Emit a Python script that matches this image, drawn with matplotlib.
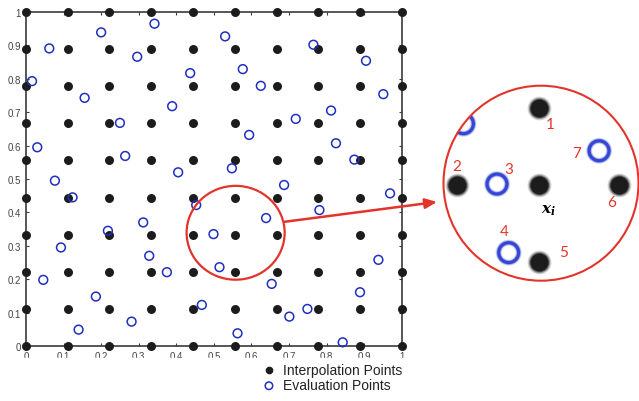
import matplotlib
matplotlib.use('Agg')
import matplotlib.pyplot as plt
import numpy as np
from matplotlib.patches import Circle, Ellipse, Rectangle, ConnectionPatch

plt.rcParams['font.family'] = ['Liberation Sans', 'DejaVu Sans']
plt.rcParams['mathtext.fontset'] = 'custom'
plt.rcParams['mathtext.it'] = 'DejaVu Serif:italic:bold'
plt.rcParams['mathtext.rm'] = 'DejaVu Serif:bold'

# interpolation nodes: full 10 x 10 lattice
node_vals = [0, 0.111, 0.222, 0.333, 0.444, 0.556, 0.667, 0.778, 0.889, 1]
interp_x, interp_y = np.meshgrid(node_vals, node_vals)
interp_x = interp_x.ravel()
interp_y = interp_y.ravel()

# scattered evaluation points
eval_x = [0.200, 0.062, 0.342, 0.296, 0.016, 0.437, 0.156, 0.389, 0.250, 0.030,
          0.264, 0.405, 0.077, 0.530, 0.765, 0.905, 0.577, 0.625, 0.951, 0.812,
          0.718, 0.594, 0.825, 0.874, 0.548, 0.124, 0.453, 0.312, 0.218, 0.093,
          0.328, 0.375, 0.046, 0.186, 0.468, 0.281, 0.140, 0.687, 0.969, 0.781,
          0.639, 0.499, 0.938, 0.515, 0.654, 0.889, 0.749, 0.701, 0.563, 0.843]
eval_y = [0.939, 0.891, 0.965, 0.866, 0.793, 0.817, 0.743, 0.718, 0.668, 0.595,
          0.569, 0.520, 0.495, 0.927, 0.902, 0.854, 0.829, 0.779, 0.754, 0.705,
          0.680, 0.632, 0.607, 0.558, 0.532, 0.445, 0.422, 0.370, 0.345, 0.295,
          0.270, 0.221, 0.198, 0.148, 0.123, 0.073, 0.049, 0.482, 0.457, 0.407,
          0.383, 0.335, 0.258, 0.236, 0.186, 0.161, 0.111, 0.088, 0.038, 0.011]

ticks = [0, 0.1, 0.2, 0.3, 0.4, 0.5, 0.6, 0.7, 0.8, 0.9, 1]
tick_labels = ['0', '0.1', '0.2', '0.3', '0.4', '0.5', '0.6', '0.7', '0.8', '0.9', '1']

# neighbours of x_i shown in the magnified view
neighbor_text = ['1', '2', '3', '4', '5', '6', '7']
neighbor_x = [0.556, 0.444, 0.499, 0.515, 0.556, 0.667, 0.639]
neighbor_y = [0.444, 0.333, 0.335, 0.236, 0.222, 0.333, 0.383]
center_x, center_y = 0.556, 0.333

BLACK = '#1c1c1c'
BLUE = '#1f2fbf'
BLUE_SOFT = '#3446d2'
RED = '#e3342c'
AXIS = '#3a3a3a'

W, H = 639, 402


def px_box(left, top, width, height):
  return [left / W, (H - top - height) / H, width / W, height / H]


fig = plt.figure(figsize=(W / 100, H / 100), dpi=100)

ax = fig.add_axes(px_box(26, 13, 375.7, 334))
ax.scatter(interp_x, interp_y, s=42, color=BLACK, linewidths=0, zorder=3,
           clip_on=False, label='Interpolation Points')
ax.scatter(eval_x, eval_y, s=40, facecolors='none', edgecolors=BLUE,
           linewidths=1.1, zorder=4, clip_on=False, label='Evaluation Points')
ax.set_xlim(0, 1)
ax.set_ylim(0, 1)
ax.set_xticks(ticks)
ax.set_xticklabels(tick_labels)
ax.set_yticks(ticks)
ax.set_yticklabels(tick_labels)
ax.tick_params(direction='in', length=2.5, width=0.8, top=True, right=True,
               labelsize=7, labelcolor='#444444', pad=3.5, color=AXIS)
for sp in ax.spines.values():
  sp.set_linewidth(1.2)
  sp.set_color(AXIS)

# ring around the neighbourhood of x_i
ax.add_patch(Ellipse((0.558, 0.339), 0.261, 0.281, fill=False, ec=RED,
                     lw=1.6, zorder=5, clip_on=False))

# magnified view, clipped to a disk; stacked translucent layers soften the marks
ins = fig.add_axes(px_box(443.5, 86.7, 195, 195))
ins.set_xlim(0.4256, 0.6931)
ins.set_ylim(0.1955, 0.4769)
ins.set_axis_off()
disk = Circle((0.5, 0.5), 0.5, transform=ins.transAxes)

for s, a in [(300, 0.12), (260, 0.2), (225, 0.3), (195, 0.45), (165, 1.0)]:
  sc = ins.scatter(interp_x, interp_y, s=s, color=BLACK, alpha=a, linewidths=0)
  sc.set_clip_path(disk)
for lw, a in [(4.6, 0.12), (3.8, 0.2), (3.0, 0.35), (2.2, 1.0)]:
  sc = ins.scatter(eval_x, eval_y, s=205, facecolors='none',
                   edgecolors=BLUE_SOFT, linewidths=lw, alpha=a)
  sc.set_clip_path(disk)

ins.add_patch(Circle((0.5, 0.5), 0.5, transform=ins.transAxes, fill=False,
                     ec=RED, lw=1.5, clip_on=False))

label_offsets = [(12, -16), (0, 19), (12, 15), (-4, 22), (25, 10), (-8, -17), (-23, -2)]
for t, x, y, (dx, dy) in zip(neighbor_text, neighbor_x, neighbor_y, label_offsets):
  ins.annotate(t, (x, y), xytext=(dx, dy), textcoords='offset pixels',
               ha='center', va='center', color=RED, fontsize=11, family='Lato')
ins.annotate(r'$x_i$', (center_x, center_y), xytext=(10, -24),
             textcoords='offset pixels', ha='center', va='center',
             color='black', fontsize=11)

arrow = ConnectionPatch(xyA=(0.689, 0.372), coordsA=ax.transData,
                        xyB=(-0.033, 0.404), coordsB=ins.transAxes,
                        arrowstyle='-|>,head_length=0.7,head_width=0.3',
                        mutation_scale=10, color=RED, lw=1.8)
fig.add_artist(arrow)

# white band under the legend
fig.add_artist(Rectangle((0, 0), 420 / W, (H - 359) / H, transform=fig.transFigure,
                         color='white', zorder=2))

handles, labels = ax.get_legend_handles_labels()
leg = fig.legend(handles, labels, loc='upper left',
                 bbox_to_anchor=(262 / W, (H - 364) / H), frameon=False,
                 fontsize=10, markerscale=0.85, handlelength=1.0,
                 handletextpad=0.5, labelspacing=0.1, borderpad=0,
                 borderaxespad=0, labelcolor='#222222')
leg.set_zorder(3)

fig.savefig('out.png', dpi=100)
